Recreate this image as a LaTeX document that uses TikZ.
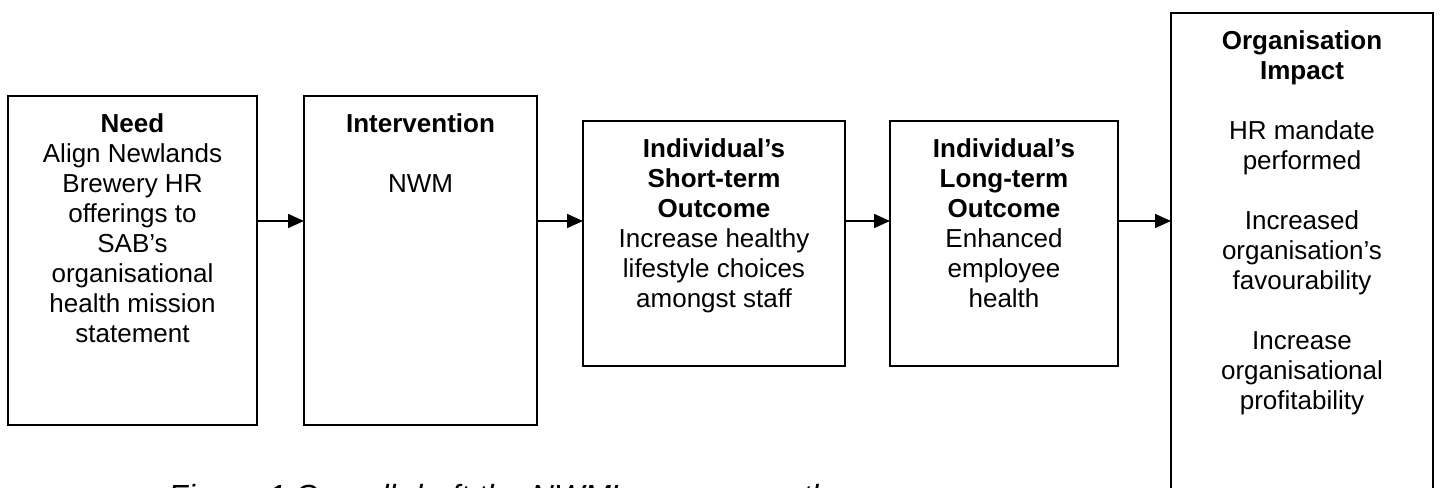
\documentclass[tikz,border=0pt]{standalone}
\usepackage{fontspec}
\setmainfont{Liberation Sans}
\usetikzlibrary{arrows.meta}
\begin{document}
\begin{tikzpicture}[x=1pt,y=-1pt,
  stagebox/.style={draw=black, line width=2pt, inner sep=0pt, outer sep=0pt, anchor=north west},
  stagetext/.style={anchor=north, align=center, inner sep=0pt, font=\fontsize{26}{30}\selectfont},
  flow/.style={line width=1.5pt, -{Triangle[length=16pt,width=14pt]}},
  captiontext/.style={anchor=base west, inner sep=0pt, font=\fontsize{32}{38}\selectfont\itshape}
]
% page frame
\fill[white] (0,0) rectangle (1442,487);
\useasboundingbox (0,0) rectangle (1442,487);

% the level at which the connectors run
\coordinate (flowline) at (0,221);

% stage boxes
\node[stagebox, minimum width=249pt, minimum height=329pt] (need) at (8,96) {};
\node[stagebox, minimum width=233pt, minimum height=329pt] (interv) at (304,96) {};
\node[stagebox, minimum width=262pt, minimum height=245pt] (shortterm) at (583,121) {};
\node[stagebox, minimum width=228pt, minimum height=245pt] (longterm) at (890,121) {};

% stage texts
\node[stagetext] (needtxt) at ([yshift=-15pt]need.north)
  {\strut\textbf{Need}\\Align Newlands\\Brewery HR\\offerings to\\SAB’s\\organisational\\health mission\\statement};
\node[stagetext] (intervtxt) at ([yshift=-15pt]interv.north)
  {\strut\textbf{Intervention}\\[30pt]NWM};
\node[stagetext] (shorttxt) at ([yshift=-15pt]shortterm.north)
  {\strut\textbf{Individual’s}\\\textbf{Short-term}\\\textbf{Outcome}\\Increase healthy\\lifestyle choices\\amongst staff};
\node[stagetext] (longtxt) at ([yshift=-15pt]longterm.north)
  {\strut\textbf{Individual’s}\\\textbf{Long-term}\\\textbf{Outcome}\\Enhanced\\employee\\health};

% the impact box and the caption run past the lower edge
\begin{scope}
  \clip (0,0) rectangle (1442,487);
  \node[stagebox, minimum width=262pt, minimum height=500pt] (impact) at (1171,13) {};
  \node[captiontext] (caption) at (168,507) {Figure 1 Overall draft the NWM’s success pathway};
\end{scope}
\node[stagetext] (impacttxt) at ([yshift=-15pt]impact.north)
  {\strut\textbf{Organisation}\\\textbf{Impact}\\[30pt]HR mandate\\performed\\[30pt]Increased\\organisation’s\\favourability\\[30pt]Increase\\organisational\\profitability};

% connectors
\draw[flow] (need.east |- flowline) -- (interv.west |- flowline);
\draw[flow] (interv.east |- flowline) -- (shortterm.west |- flowline);
\draw[flow] (shortterm.east |- flowline) -- (longterm.west |- flowline);
\draw[flow] (longterm.east |- flowline) -- (impact.west |- flowline);
\end{tikzpicture}
\end{document}
